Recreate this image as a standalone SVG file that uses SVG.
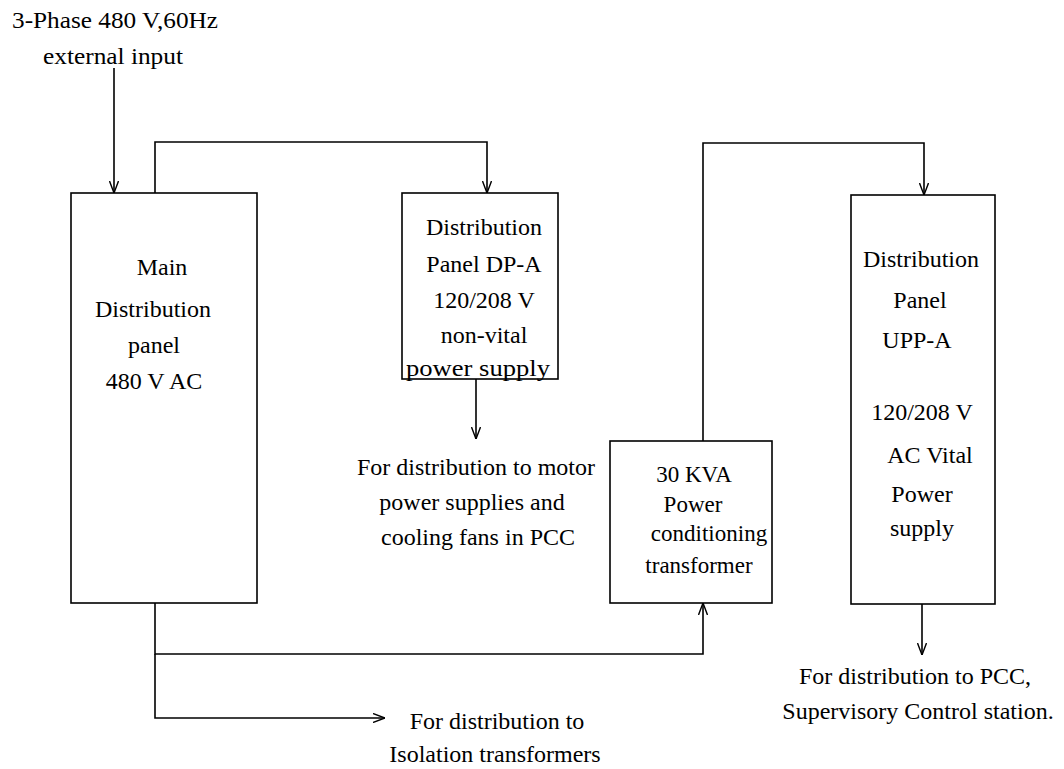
<svg xmlns="http://www.w3.org/2000/svg" width="1064" height="769" viewBox="0 0 1064 769">
  <style>
    .box { fill: #fff; stroke: #000; stroke-width: 1.6; }
    .wire { fill: none; stroke: #000; stroke-width: 1.6; }
    text { font-family: "Liberation Serif", "Times New Roman", serif; font-size: 24px; fill: #000; text-anchor: middle; }
    .small { font-size: 23px; }
  </style>
  <defs>
    <marker id="arrow" viewBox="0 0 12 10" refX="12" refY="5" markerWidth="12" markerHeight="10" markerUnits="userSpaceOnUse" orient="auto">
      <path d="M0,0.5 L12,5 L0,9.5" fill="none" stroke="#000" stroke-width="1.4"/>
    </marker>
  </defs>

  <rect width="1064" height="769" fill="#fff"/>

  <!-- supply label -->
  <g id="input-label">
    <text x="115" y="28" textLength="206" lengthAdjust="spacingAndGlyphs">3-Phase 480 V,60Hz</text>
    <text x="113" y="64" textLength="140" lengthAdjust="spacingAndGlyphs">external input</text>
  </g>

  <!-- connectors -->
  <g id="connectors">
    <line class="wire" x1="114" y1="68" x2="114" y2="193" marker-end="url(#arrow)"/>
    <polyline class="wire" points="155,193 155,142 487,142 487,193" marker-end="url(#arrow)"/>
    <line class="wire" x1="476" y1="379" x2="476" y2="439" marker-end="url(#arrow)"/>
    <polyline class="wire" points="703,441 703,143 924,143 924,195" marker-end="url(#arrow)"/>
    <polyline class="wire" points="155,603 155,654 703,654 703,603" marker-end="url(#arrow)"/>
    <polyline class="wire" points="155,654 155,718 385,718" marker-end="url(#arrow)"/>
    <line class="wire" x1="922" y1="604" x2="922" y2="655" marker-end="url(#arrow)"/>
  </g>

  <!-- main distribution panel -->
  <g id="main-panel">
    <rect class="box" x="71" y="193" width="186" height="410"/>
    <text x="162" y="275">Main</text>
    <text x="153" y="317">Distribution</text>
    <text x="154" y="353">panel</text>
    <text x="154" y="389">480 V AC</text>
  </g>

  <!-- distribution panel DP-A -->
  <g id="dp-a">
    <rect class="box" x="402" y="193" width="156" height="186"/>
    <text x="484" y="235">Distribution</text>
    <text x="484" y="272">Panel DP-A</text>
    <text x="484" y="308">120/208 V</text>
    <text x="484" y="343">non-vital</text>
    <text x="478" y="376" textLength="144" lengthAdjust="spacingAndGlyphs">power supply</text>
  </g>

  <!-- DP-A load label -->
  <g id="dp-a-load">
    <text x="476" y="475">For distribution to motor</text>
    <text x="472" y="510">power supplies and</text>
    <text x="478" y="545">cooling fans in PCC</text>
  </g>

  <!-- power conditioning transformer -->
  <g id="transformer">
    <rect class="box" x="610" y="441" width="162" height="162"/>
    <text class="small" x="694" y="482">30 KVA</text>
    <text class="small" x="693" y="512">Power</text>
    <text class="small" x="709" y="541">conditioning</text>
    <text class="small" x="699" y="573">transformer</text>
  </g>

  <!-- distribution panel UPP-A -->
  <g id="upp-a">
    <rect class="box" x="851" y="195" width="144" height="409"/>
    <text x="921" y="267">Distribution</text>
    <text x="920" y="308">Panel</text>
    <text x="917" y="348">UPP-A</text>
    <text x="922" y="420">120/208 V</text>
    <text x="930" y="463">AC Vital</text>
    <text x="922" y="502">Power</text>
    <text x="922" y="536">supply</text>
  </g>

  <!-- UPP-A load label -->
  <g id="upp-a-load">
    <text x="915" y="684">For distribution to PCC,</text>
    <text x="918" y="719">Supervisory Control station.</text>
  </g>

  <!-- isolation transformer feed label -->
  <g id="isolation-load">
    <text x="497" y="729">For distribution to</text>
    <text x="495" y="762">Isolation transformers</text>
  </g>
</svg>
